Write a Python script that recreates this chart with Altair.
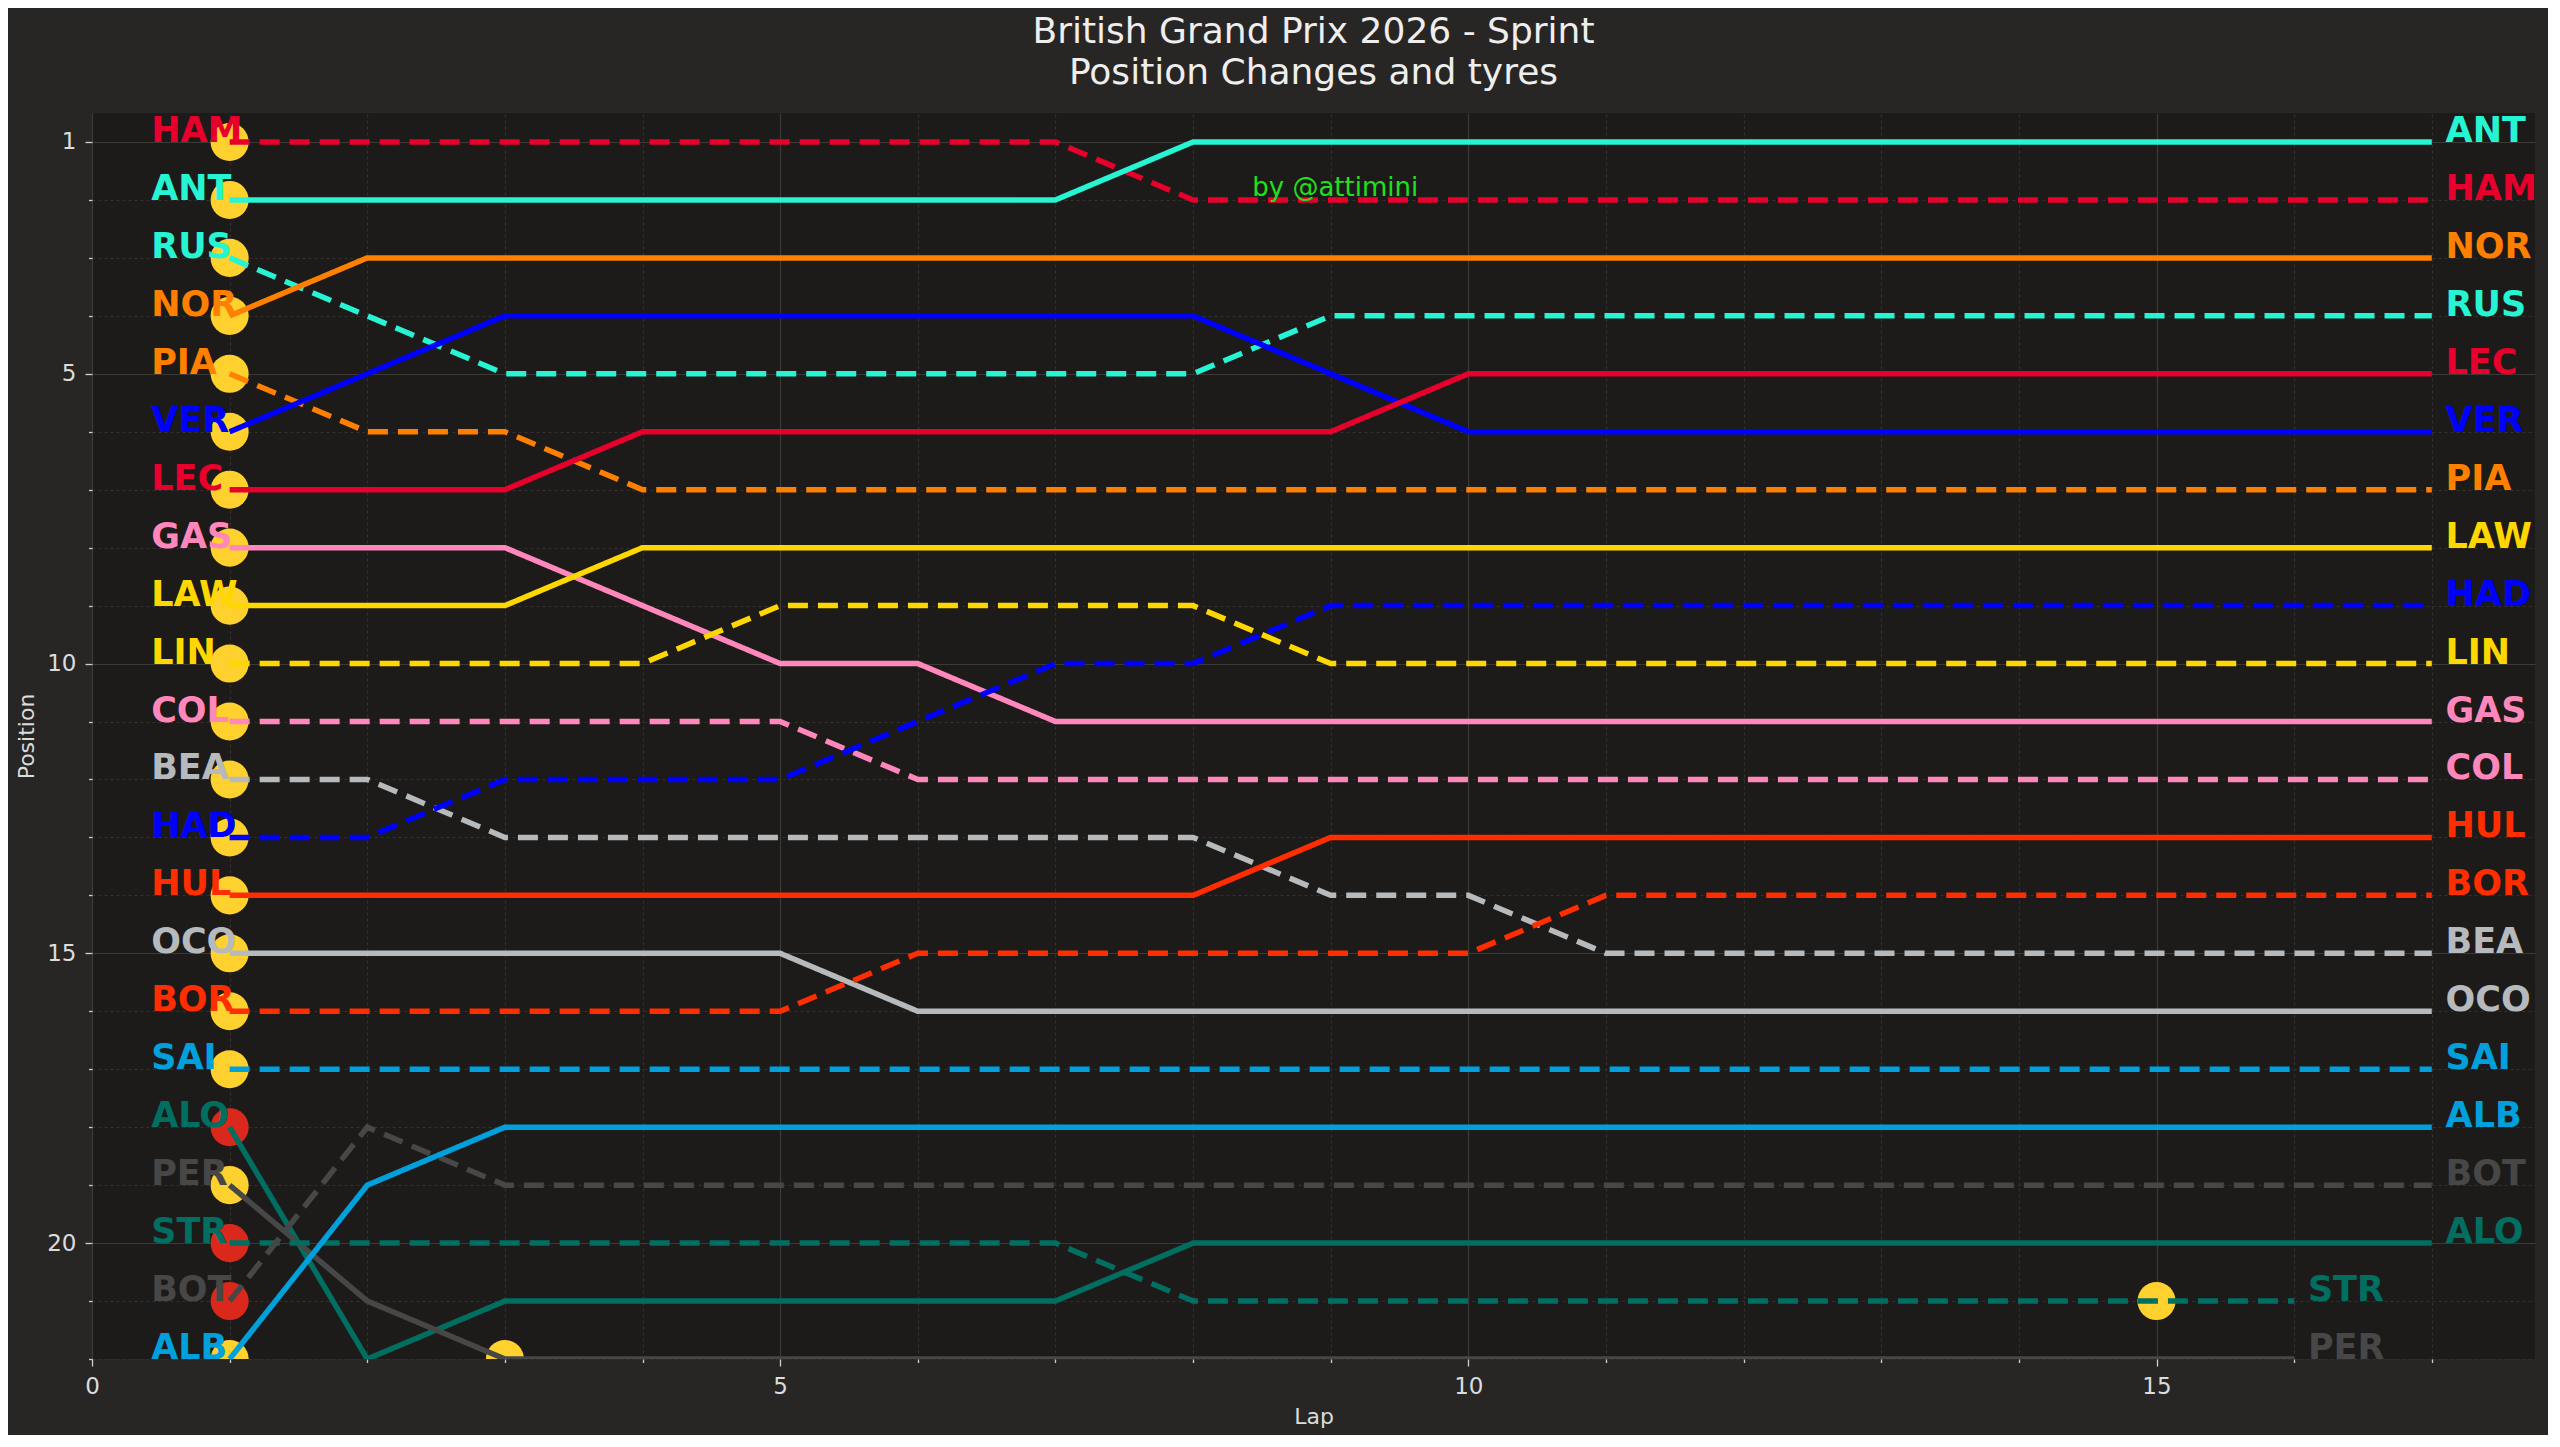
import altair as alt
import pandas as pd

# ---------------- data ----------------
laps = list(range(1, 18))

drivers = ["HAM", "ANT", "RUS", "NOR", "PIA", "VER", "LEC", "GAS", "LAW", "LIN", "COL",
           "BEA", "HAD", "HUL", "OCO", "BOR", "SAI", "ALO", "PER", "STR", "BOT", "ALB"]

HAM = [1, 1, 1, 1, 1, 1, 1, 2, 2, 2, 2, 2, 2, 2, 2, 2, 2]
ANT = [2, 2, 2, 2, 2, 2, 2, 1, 1, 1, 1, 1, 1, 1, 1, 1, 1]
RUS = [3, 4, 5, 5, 5, 5, 5, 5, 4, 4, 4, 4, 4, 4, 4, 4, 4]
NOR = [4, 3, 3, 3, 3, 3, 3, 3, 3, 3, 3, 3, 3, 3, 3, 3, 3]
PIA = [5, 6, 6, 7, 7, 7, 7, 7, 7, 7, 7, 7, 7, 7, 7, 7, 7]
VER = [6, 5, 4, 4, 4, 4, 4, 4, 5, 6, 6, 6, 6, 6, 6, 6, 6]
LEC = [7, 7, 7, 6, 6, 6, 6, 6, 6, 5, 5, 5, 5, 5, 5, 5, 5]
GAS = [8, 8, 8, 9, 10, 10, 11, 11, 11, 11, 11, 11, 11, 11, 11, 11, 11]
LAW = [9, 9, 9, 8, 8, 8, 8, 8, 8, 8, 8, 8, 8, 8, 8, 8, 8]
LIN = [10, 10, 10, 10, 9, 9, 9, 9, 10, 10, 10, 10, 10, 10, 10, 10, 10]
COL = [11, 11, 11, 11, 11, 12, 12, 12, 12, 12, 12, 12, 12, 12, 12, 12, 12]
BEA = [12, 12, 13, 13, 13, 13, 13, 13, 14, 14, 15, 15, 15, 15, 15, 15, 15]
HAD = [13, 13, 12, 12, 12, 11, 10, 10, 9, 9, 9, 9, 9, 9, 9, 9, 9]
HUL = [14, 14, 14, 14, 14, 14, 14, 14, 13, 13, 13, 13, 13, 13, 13, 13, 13]
OCO = [15, 15, 15, 15, 15, 16, 16, 16, 16, 16, 16, 16, 16, 16, 16, 16, 16]
BOR = [16, 16, 16, 16, 16, 15, 15, 15, 15, 15, 14, 14, 14, 14, 14, 14, 14]
SAI = [17, 17, 17, 17, 17, 17, 17, 17, 17, 17, 17, 17, 17, 17, 17, 17, 17]
ALO = [18, 22, 21, 21, 21, 21, 21, 20, 20, 20, 20, 20, 20, 20, 20, 20, 20]
PER = [19, 21, 22, 22, 22, 22, 22, 22, 22, 22, 22, 22, 22, 22, 22, 22]
STR = [20, 20, 20, 20, 20, 20, 20, 21, 21, 21, 21, 21, 21, 21, 21, 21]
BOT = [21, 18, 19, 19, 19, 19, 19, 19, 19, 19, 19, 19, 19, 19, 19, 19, 19]
ALB = [22, 19, 18, 18, 18, 18, 18, 18, 18, 18, 18, 18, 18, 18, 18, 18, 18]

positions = [HAM, ANT, RUS, NOR, PIA, VER, LEC, GAS, LAW, LIN, COL,
             BEA, HAD, HUL, OCO, BOR, SAI, ALO, PER, STR, BOT, ALB]

driver_colors = ["#E8002D", "#27F4D2", "#27F4D2", "#FF8000", "#FF8000", "#0000FF", "#E8002D",
                 "#FF87BC", "#FFD700", "#FFD700", "#FF87BC", "#B6BABD", "#0000FF", "#FF2D00",
                 "#B6BABD", "#FF2D00", "#00A0DD", "#006F62", "#474747", "#006F62", "#474747",
                 "#00A0DD"]
driver_styles = ["dashed", "solid", "dashed", "solid", "dashed", "solid", "solid", "solid",
                 "solid", "dashed", "dashed", "dashed", "dashed", "solid", "solid", "dashed",
                 "dashed", "solid", "solid", "dashed", "dashed", "solid"]

# tyre stints (driver, lap the stint starts, compound)
stint_driver = drivers + ["PER", "STR"]
stint_lap = [1] * 22 + [3, 15]
stint_compound = ["MEDIUM"] * 17 + ["SOFT", "MEDIUM", "SOFT", "SOFT", "MEDIUM"] + ["MEDIUM", "MEDIUM"]
compounds = ["SOFT", "MEDIUM"]
compound_colors = ["#DA291C", "#FFD12E"]

credit_text = ["by @attimini"]
credit_lap = [8.43]
credit_pos = [1.94]

title_lines = ["British Grand Prix 2026 - Sprint", "Position Changes and tyres"]

# ---------------- tables ----------------
rows = []
for d, plist, st in zip(drivers, positions, driver_styles):
    for lap, p in zip(laps, plist):
        rows.append({"driver": d, "lap": lap, "pos": p, "style": st})
df = pd.DataFrame(rows)

pos_lookup = {d: plist for d, plist in zip(drivers, positions)}
stints = pd.DataFrame({
    "driver": stint_driver,
    "lap": stint_lap,
    "compound": stint_compound,
    "pos": [pos_lookup[d][l - 1] for d, l in zip(stint_driver, stint_lap)],
})
credit = pd.DataFrame({"lap": credit_lap, "pos": credit_pos, "text": credit_text})

# ---------------- styling ----------------
FONT = "DejaVu Sans"
BG = "#282624"
PLOT_BG = "#1d1b19"
TXT = "#dcdcdc"

major_x = "datum.value % 5 === 0"
major_y = "datum.value % 5 === 0 || datum.value === 1"

def make_axis(test, values, title, **kw):
    return alt.Axis(
        values=values,
        labelExpr=f"({test}) ? datum.label : ''",
        title=title,
        grid=True,
        domain=False,
        gridColor={"condition": {"test": test, "value": "#3c3a37"}, "value": "#33312e"},
        gridDash={"condition": {"test": test, "value": []}, "value": [3, 3]},
        gridWidth=1.2,
        tickColor="#cfcfcf",
        tickWidth=1.3,
        tickSize={"condition": {"test": test, "value": 7}, "value": 3.5},
        labelFont=FONT,
        labelFontSize=23,
        labelColor=TXT,
        labelPadding=9,
        labelFlush=False,
        labelOverlap=False,
        titleFont=FONT,
        titleFontSize=22,
        titleFontWeight="normal",
        titleColor=TXT,
        **kw,
    )

xaxis = make_axis(major_x, list(range(0, 18)), "Lap", titlePadding=8)
yaxis = make_axis(major_y, list(range(1, 23)), "Position", titlePadding=8)

xscale = alt.Scale(domain=[0, 17.75], nice=False, zero=False)
yscale = alt.Scale(domain=[0.5, 22], nice=False, zero=False, reverse=True)

color_enc = alt.Color("driver:N", scale=alt.Scale(domain=drivers, range=driver_colors), legend=None)

base = alt.Chart(df)

markers = alt.Chart(stints).mark_circle(size=1450, opacity=1, clip=True).encode(
    x=alt.X("lap:Q", scale=xscale, axis=xaxis, title="Lap"),
    y=alt.Y("pos:Q", scale=yscale, axis=yaxis, title="Position"),
    fill=alt.Fill("compound:N", scale=alt.Scale(domain=compounds, range=compound_colors), legend=None),
)

lines = base.mark_line(strokeWidth=5.5, clip=True).encode(
    x=alt.X("lap:Q", scale=xscale, axis=xaxis, title="Lap"),
    y=alt.Y("pos:Q", scale=yscale, axis=yaxis, title="Position"),
    color=color_enc,
    strokeDash=alt.StrokeDash("style:N",
                              scale=alt.Scale(domain=["solid", "dashed"], range=[[1, 0], [20, 10]]),
                              legend=None),
    order="lap:Q",
)

label_props = dict(align="left", baseline="alphabetic", font=FONT, fontSize=35, fontWeight="bold")

start_labels = base.transform_filter("datum.lap === 1").transform_calculate(
    lx="datum.lap - 0.57"
).mark_text(**label_props).encode(
    x=alt.X("lx:Q", scale=xscale, axis=xaxis, title="Lap"),
    y=alt.Y("pos:Q", scale=yscale, axis=yaxis, title="Position"),
    text="driver:N",
    color=color_enc,
)

end_labels = base.transform_joinaggregate(
    last="max(lap)", groupby=["driver"]
).transform_filter("datum.lap === datum.last").transform_calculate(
    lx="datum.lap + 0.1"
).mark_text(**label_props).encode(
    x=alt.X("lx:Q", scale=xscale, axis=xaxis, title="Lap"),
    y=alt.Y("pos:Q", scale=yscale, axis=yaxis, title="Position"),
    text="driver:N",
    color=color_enc,
)

credit_mark = alt.Chart(credit).mark_text(
    align="left", baseline="alphabetic", font=FONT, fontSize=26, color="#1fe01f"
).encode(
    x=alt.X("lap:Q", scale=xscale, axis=xaxis, title="Lap"),
    y=alt.Y("pos:Q", scale=yscale, axis=yaxis, title="Position"),
    text="text:N",
)

chart = alt.layer(markers, lines, start_labels, end_labels, credit_mark).properties(
    width=2443,
    height=1246,
    padding={"left": 84, "top": 105, "right": 13, "bottom": 76},
    autosize=alt.AutoSizeParams(type="none"),
    background=BG,
    title=alt.TitleParams(
        text=title_lines,
        font=FONT,
        fontSize=36,
        fontWeight="normal",
        color="#eeeeee",
        anchor="middle",
        lineHeight=41,
        offset=21,
    ),
).configure_view(stroke=None, fill=PLOT_BG)

chart.save("out.html", embed_options={"renderer": "svg", "actions": False})
